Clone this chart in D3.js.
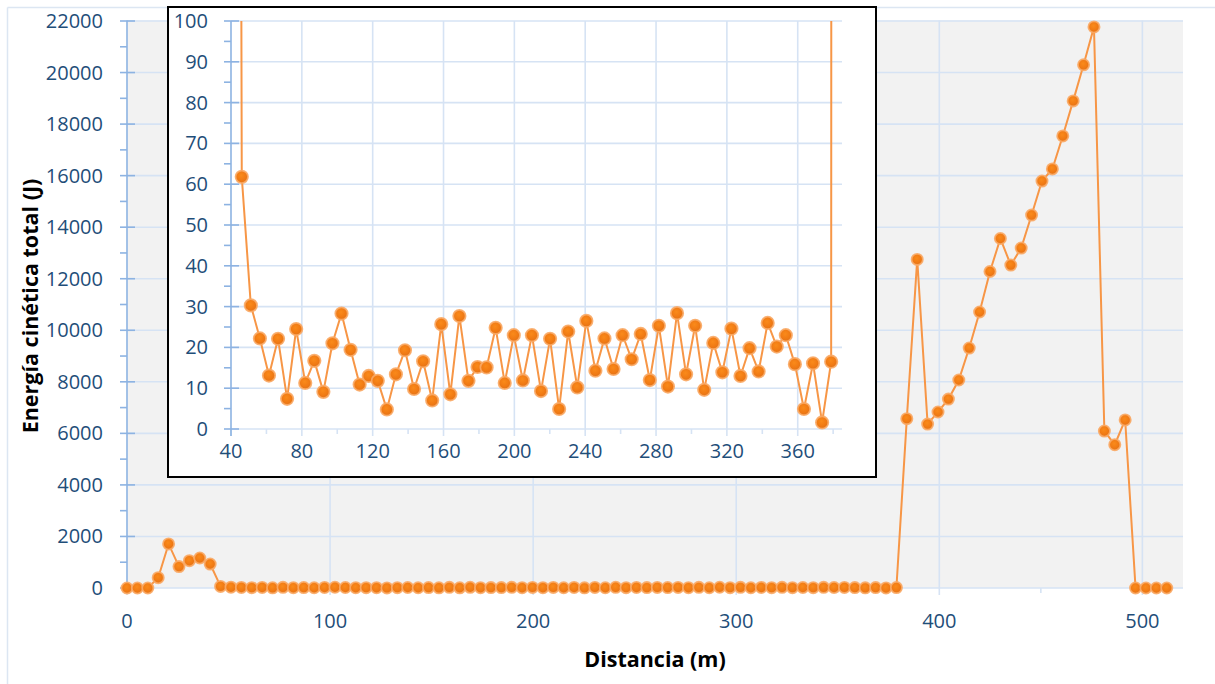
<!DOCTYPE html>
<html>
<head>
<meta charset="utf-8">
<script src="https://cdn.jsdelivr.net/npm/d3@7"></script>
<style>
  html, body { margin: 0; padding: 0; background: #ffffff; }
  svg { display: block; }
  text { font-family: "Open Sans", "Noto Sans", sans-serif; }
</style>
</head>
<body>
<svg id="chart" width="1215" height="684"></svg>
<script>
// ---------------- DATA ----------------
const distances = [0, 5.12, 10.24, 15.36, 20.48, 25.6, 30.72, 35.84, 40.96, 46.08, 51.2, 56.32, 61.44, 66.56, 71.68, 76.8, 81.92, 87.04, 92.16, 97.28, 102.4, 107.52, 112.64, 117.76, 122.88, 128, 133.12, 138.24, 143.36, 148.48, 153.6, 158.72, 163.84, 168.96, 174.08, 179.2, 184.32, 189.44, 194.56, 199.68, 204.8, 209.92, 215.04, 220.16, 225.28, 230.4, 235.52, 240.64, 245.76, 250.88, 256, 261.12, 266.24, 271.36, 276.48, 281.6, 286.72, 291.84, 296.96, 302.08, 307.2, 312.32, 317.44, 322.56, 327.68, 332.8, 337.92, 343.04, 348.16, 353.28, 358.4, 363.52, 368.64, 373.76, 378.88, 384, 389.12, 394.24, 399.36, 404.48, 409.6, 414.72, 419.84, 424.96, 430.08, 435.2, 440.32, 445.44, 450.56, 455.68, 460.8, 465.92, 471.04, 476.16, 481.28, 486.4, 491.52, 496.64, 501.76, 506.88, 512];

const energy = [0, 0, 0, 400, 1710, 830, 1060, 1165, 930,
  61.8, 30.3, 22.2, 13.1, 22.1, 7.4, 24.5, 11.3, 16.7, 9.1,
  21.0, 28.3, 19.4, 10.9, 13.0, 11.8, 4.8, 13.4, 19.3, 9.8,
  16.6, 7.0, 25.7, 8.5, 27.7, 11.8, 15.2, 15.1, 24.8, 11.3,
  23.0, 11.9, 23.0, 9.3, 22.1, 4.9, 23.9, 10.2, 26.5, 14.3,
  22.2, 14.7, 23.0, 17.1, 23.3, 12.0, 25.3, 10.4, 28.4, 13.4,
  25.3, 9.6, 21.1, 13.9, 24.6, 13.0, 19.8, 14.1, 26.0, 20.2,
  23.0, 15.9, 4.9, 16.1, 1.6, 16.5,
  6570, 12750, 6360, 6830, 7330, 8070, 9310, 10710, 12280, 13560,
  12530, 13190, 14470, 15790, 16260, 17540, 18900, 20300, 21770,
  6090, 5560, 6520,
  0, 0, 0, 0];

const mainYTicks = [0, 2000, 4000, 6000, 8000, 10000, 12000, 14000, 16000, 18000, 20000, 22000];
const mainXTicks = [0, 100, 200, 300, 400, 500];
const insetYTicks = [0, 10, 20, 30, 40, 50, 60, 70, 80, 90, 100];
const insetXTicks = [40, 80, 120, 160, 200, 240, 280, 320, 360];

const xTitle = "Distancia (m)";
const yTitle = "Energía cinética total (J)";

// ---------------- STYLE ----------------
const gridColor = "#d6e3f4";
const axisColor = "#8db3e2";
const labelColor = "#1f4e79";
const lineColor = "#f79646";
const fontSize = 20;

const svg = d3.select("#chart");
const points = distances.map((d, i) => ({x: d, y: energy[i]}));

// marker gradient
const defs = svg.append("defs");
const grad = defs.append("radialGradient").attr("id", "mk").attr("cx", "45%").attr("cy", "40%").attr("r", "60%");
grad.append("stop").attr("offset", "0%").attr("stop-color", "#fa8a1a");
grad.append("stop").attr("offset", "65%").attr("stop-color", "#f07a14");
grad.append("stop").attr("offset", "100%").attr("stop-color", "#e27318");

// outer chart border (only top & left visible)
svg.append("line").attr("x1", 7.5).attr("x2", 1215).attr("y1", 7.5).attr("y2", 7.5).attr("stroke", "#dce6f2").attr("stroke-width", 1.5);
svg.append("line").attr("x1", 7.5).attr("x2", 7.5).attr("y1", 7.5).attr("y2", 684).attr("stroke", "#dce6f2").attr("stroke-width", 1.5);

// ---------------- MAIN CHART ----------------
const m = {left: 127, right: 1183, top: 20.5, bottom: 588};
const x = d3.scaleLinear().domain([0, 520]).range([m.left, m.right]);
const y = d3.scaleLinear().domain([0, 22000]).range([m.bottom, 21]);

svg.append("rect").attr("x", m.left).attr("y", m.top).attr("width", m.right - m.left).attr("height", m.bottom - m.top).attr("fill", "#f2f2f2");

const gMain = svg.append("g");
// grid
gMain.selectAll("line.hg").data(mainYTicks.filter(t => t > 0)).join("line")
  .attr("x1", m.left).attr("x2", m.right).attr("y1", d => y(d)).attr("y2", d => y(d))
  .attr("stroke", gridColor).attr("stroke-width", 1.6);
gMain.selectAll("line.vg").data(mainXTicks.filter(t => t > 0)).join("line")
  .attr("x1", d => x(d)).attr("x2", d => x(d)).attr("y1", m.top).attr("y2", m.bottom)
  .attr("stroke", gridColor).attr("stroke-width", 1.6);

// x axis line & ticks
gMain.append("line").attr("x1", m.left).attr("x2", m.right).attr("y1", y(0)).attr("y2", y(0)).attr("stroke", gridColor).attr("stroke-width", 1.6);
gMain.selectAll("line.xt").data(d3.range(0, 520, 50)).join("line")
  .attr("x1", d => x(d)).attr("x2", d => x(d)).attr("y1", y(0))
  .attr("y2", d => y(0) + (d % 100 === 0 ? 7 : 5))
  .attr("stroke", gridColor).attr("stroke-width", 1.6);
// y axis line & ticks
gMain.append("line").attr("x1", m.left).attr("x2", m.left).attr("y1", m.top).attr("y2", m.bottom).attr("stroke", axisColor).attr("stroke-width", 1.6);
gMain.selectAll("line.ytM").data(mainYTicks).join("line")
  .attr("x1", m.left - 7).attr("x2", m.left + 8).attr("y1", d => y(d)).attr("y2", d => y(d))
  .attr("stroke", axisColor).attr("stroke-width", 1.6);
gMain.selectAll("line.ytm").data(d3.range(1000, 22000, 2000)).join("line")
  .attr("x1", m.left - 7).attr("x2", m.left).attr("y1", d => y(d)).attr("y2", d => y(d))
  .attr("stroke", axisColor).attr("stroke-width", 1.6);

// labels
gMain.selectAll("text.yl").data(mainYTicks).join("text")
  .attr("x", 103).attr("y", d => y(d)).attr("dy", "0.35em").attr("text-anchor", "end")
  .attr("fill", labelColor).attr("font-size", fontSize).text(d => d);
gMain.selectAll("text.xl").data(mainXTicks).join("text")
  .attr("x", d => x(d)).attr("y", 628).attr("text-anchor", "middle")
  .attr("fill", labelColor).attr("font-size", fontSize).text(d => d);

// titles
svg.append("text").attr("x", 655).attr("y", 667).attr("text-anchor", "middle")
  .attr("font-weight", "bold").attr("font-size", 21.5).attr("fill", "#000").text(xTitle);
svg.append("text").attr("transform", "translate(38,306) rotate(-90)").attr("text-anchor", "middle")
  .attr("font-weight", "bold").attr("font-size", 21.5).attr("fill", "#000").text(yTitle);

// data line + markers
const line = d3.line().x(d => x(d.x)).y(d => y(d.y));
gMain.append("path").datum(points).attr("d", line).attr("fill", "none").attr("stroke", lineColor).attr("stroke-width", 2);
gMain.selectAll("circle").data(points).join("circle")
  .attr("cx", d => x(d.x)).attr("cy", d => y(d.y)).attr("r", 5.6)
  .attr("fill", "url(#mk)").attr("stroke", "#f9aa66").attr("stroke-width", 1.8).attr("stroke-opacity", 0.9);

// ---------------- INSET ----------------
const box = {x: 168, y: 7, w: 708, h: 470};
svg.append("rect").attr("x", box.x).attr("y", box.y).attr("width", box.w).attr("height", box.h)
  .attr("fill", "#ffffff").attr("stroke", "#000").attr("stroke-width", 2);

const im = {left: 231, right: 842, top: 21, bottom: 429};
const xi = d3.scaleLinear().domain([40, 385]).range([im.left, im.right]);
const yi = d3.scaleLinear().domain([0, 100]).range([im.bottom, im.top]);
const gIn = svg.append("g");

gIn.selectAll("line.hg").data(insetYTicks.filter(t => t > 0)).join("line")
  .attr("x1", im.left).attr("x2", im.right).attr("y1", d => yi(d)).attr("y2", d => yi(d))
  .attr("stroke", gridColor).attr("stroke-width", 1.6);
gIn.selectAll("line.vg").data(insetXTicks.filter(t => t > 40)).join("line")
  .attr("x1", d => xi(d)).attr("x2", d => xi(d)).attr("y1", im.top).attr("y2", im.bottom)
  .attr("stroke", gridColor).attr("stroke-width", 1.6);
gIn.append("line").attr("x1", im.left).attr("x2", im.right).attr("y1", yi(0)).attr("y2", yi(0)).attr("stroke", gridColor).attr("stroke-width", 1.6);
gIn.selectAll("line.xt").data(d3.range(40, 385, 20)).join("line")
  .attr("x1", d => xi(d)).attr("x2", d => xi(d)).attr("y1", yi(0))
  .attr("y2", d => yi(0) + (d % 40 === 0 ? 7 : 5))
  .attr("stroke", gridColor).attr("stroke-width", 1.6);
gIn.append("line").attr("x1", im.left).attr("x2", im.left).attr("y1", im.top).attr("y2", im.bottom + 7).attr("stroke", axisColor).attr("stroke-width", 1.6);
gIn.selectAll("line.ytM").data(insetYTicks).join("line")
  .attr("x1", im.left - 7).attr("x2", im.left + 8).attr("y1", d => yi(d)).attr("y2", d => yi(d))
  .attr("stroke", axisColor).attr("stroke-width", 1.6);
gIn.selectAll("line.ytm").data(d3.range(5, 100, 10)).join("line")
  .attr("x1", im.left - 7).attr("x2", im.left).attr("y1", d => yi(d)).attr("y2", d => yi(d))
  .attr("stroke", axisColor).attr("stroke-width", 1.6);

gIn.selectAll("text.yl").data(insetYTicks).join("text")
  .attr("x", 208).attr("y", d => yi(d)).attr("dy", "0.35em").attr("text-anchor", "end")
  .attr("fill", labelColor).attr("font-size", fontSize).text(d => d);
gIn.selectAll("text.xl").data(insetXTicks).join("text")
  .attr("x", d => xi(d)).attr("y", 458).attr("text-anchor", "middle")
  .attr("fill", labelColor).attr("font-size", fontSize).text(d => d);

defs.append("clipPath").attr("id", "insetClip").append("rect")
  .attr("x", im.left).attr("y", im.top).attr("width", im.right - im.left).attr("height", im.bottom - im.top + 10);
const linei = d3.line().x(d => xi(d.x)).y(d => yi(d.y));
gIn.append("path").datum(points).attr("d", linei).attr("clip-path", "url(#insetClip)")
  .attr("fill", "none").attr("stroke", lineColor).attr("stroke-width", 2);
gIn.selectAll("circle").data(points.filter(d => d.x >= 40 && d.x <= 385 && d.y <= 100)).join("circle")
  .attr("cx", d => xi(d.x)).attr("cy", d => yi(d.y)).attr("r", 6.2)
  .attr("fill", "url(#mk)").attr("stroke", "#f9aa66").attr("stroke-width", 1.8).attr("stroke-opacity", 0.9);
</script>
</body>
</html>
